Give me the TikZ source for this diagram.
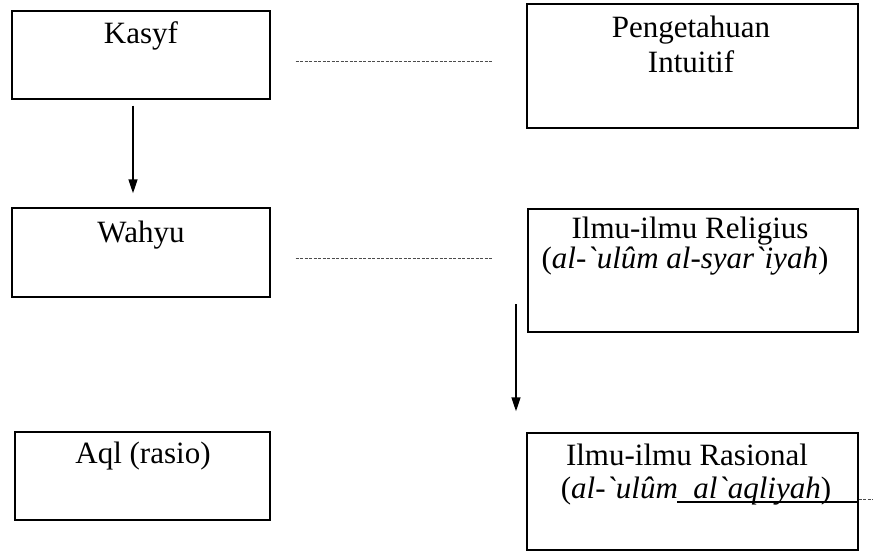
\documentclass[tikz,border=0pt]{standalone}
\usepackage{fontspec}
\setmainfont{Liberation Serif}[Ligatures=TeXOff]
\usetikzlibrary{arrows.meta}
\begin{document}
\begin{tikzpicture}[x=1pt,y=-1pt,
  box/.style={draw, line width=1.4pt, rectangle, inner sep=0pt},
  lbl/.style={font=\fontsize{31}{36}\selectfont, inner sep=0pt, anchor=base},
  arr/.style={line width=1.5pt, -{Triangle[length=14pt,width=9pt]}},
  dots/.style={line width=0.9pt, black!70, dash pattern=on 3pt off 1.5pt}]
\useasboundingbox (0,0) rectangle (873,555);

\node[box, minimum width=258pt, minimum height=88pt] (kasyf) at (141,55) {};
\node[box, minimum width=331pt, minimum height=124pt] (intuitif) at (692.5,66) {};
\node[box, minimum width=258pt, minimum height=89pt] (wahyu) at (141,252.5) {};
\node[box, minimum width=330pt, minimum height=123pt] (religius) at (693,270.5) {};
\node[box, minimum width=255pt, minimum height=88pt] (aql) at (142.5,476) {};
\node[box, minimum width=331pt, minimum height=117pt] (rasional) at (692.5,491.5) {};

\node[lbl] (kasyfT) at (141,43) {Kasyf};
\node[lbl] (intuitifT1) at (691,37) {Pengetahuan};
\node[lbl] (intuitifT2) at (691,72) {Intuitif};
\node[lbl] (wahyuT) at (141,242) {Wahyu};
\node[lbl] (religiusT1) at (690,238) {Ilmu-ilmu Religius};
\node[lbl] (religiusT2) at (685,268) {(\textit{al-`ulûm al-syar`iyah})};
\node[lbl] (aqlT) at (143,463) {Aql (rasio)};
\node[lbl] (rasionalT1) at (687,465) {Ilmu-ilmu Rasional};
\node[lbl] (rasionalT2) at (696,498) {(\textit{al-`ulûm \ al`aqliyah})};

\coordinate (a1) at (133,0);
\draw[arr, shorten <=6pt, shorten >=14pt] (kasyf.south -| a1) -- (wahyu.north -| a1);
\coordinate (a2s) at (516,304);
\draw[arr, shorten >=21pt] (a2s) -- (rasional.north -| a2s);

\coordinate (d1) at ([yshift=-6pt]kasyf.east);
\draw[dots, shorten <=25pt, shorten >=34pt] (d1) -- (d1 -| intuitif.west);
\coordinate (d2) at ([yshift=-5.5pt]wahyu.east);
\draw[dots, shorten <=25pt, shorten >=35pt] (d2) -- (d2 -| religius.west);

\coordinate (ul) at (677,502);
\draw[line width=1.3pt] (ul) -- (ul -| rasional.east);
\coordinate (edge) at (873,499);
\draw[dots] (rasional.east |- edge) -- (edge);
\end{tikzpicture}
\end{document}
